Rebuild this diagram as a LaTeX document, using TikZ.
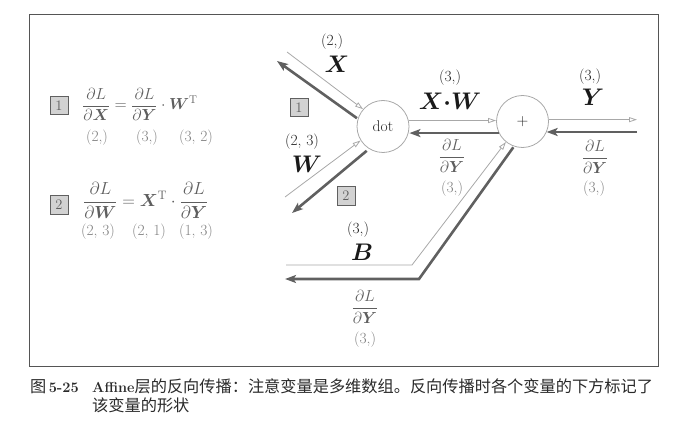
\RequirePackage{fix-cm}
\documentclass[tikz,border=0pt]{standalone}
\usepackage{amsmath,bm}
\usepackage{fontspec}
\newfontfamily\cjk{Noto Sans CJK SC}
\usetikzlibrary{arrows.meta}
\definecolor{lgray}{HTML}{A8A8A8}
\definecolor{dgray}{HTML}{606060}
\definecolor{tgray}{HTML}{5E5E5E}
\definecolor{sgray}{HTML}{828282}
\definecolor{fgray}{HTML}{555555}
\definecolor{bfill}{HTML}{D2D2D2}
\definecolor{capc}{HTML}{2A2A2A}
\tikzset{
  lightarr/.style={draw=lgray, line width=0.8pt, -{Triangle[open,length=8pt,width=5pt]}},
  darkarr/.style={draw=dgray, line width=2.6pt, -{Stealth[length=11pt,width=8pt,inset=2.5pt]}},
  opnode/.style={circle, draw=lgray, line width=0.8pt, minimum size=52pt, inner sep=0pt, text=black!85, font=\fontsize{15.5}{18}\selectfont},
  numbox/.style={draw=dgray, fill=bfill, line width=1pt, minimum size=18pt, inner sep=0pt, text=tgray, font=\fontsize{14.5}{16}\selectfont},
  shp/.style={inner sep=0pt, text=black!85, font=\fontsize{15.5}{18}\selectfont},
  shpg/.style={inner sep=0pt, text=sgray, font=\fontsize{15.5}{18}\selectfont},
  big/.style={inner sep=0pt, text=black!90, font=\fontsize{24}{28}\selectfont},
  grad/.style={inner sep=0pt, text=tgray, font=\fontsize{16}{19}\selectfont},
  capt/.style={inner sep=0pt, text=capc, font=\fontsize{14.5}{18}\selectfont},
}
\newcommand\cjkc{\fontsize{16.2}{19}\selectfont\cjk}
\begin{document}
\begin{tikzpicture}[x=1pt,y=-1pt]
\useasboundingbox (0,0) rectangle (684,438);
\draw[draw=fgray, line width=0.8pt] (29,14) rectangle (658,366);

% operator nodes
\node[opnode] (dot) at (383,126.5) {dot};
\node[opnode] (plus) at (522.5,121.5) {$+$};

% coordinates of free ends
\coordinate (xs) at (287,52);
\coordinate (xe) at (277,61);
\coordinate (ws) at (285,197);
\coordinate (we) at (292,213);
\coordinate (yr) at (637,120);
\coordinate (yd) at (637,132);
\coordinate (bl) at (286,265);
\coordinate (bc) at (412,265);
\coordinate (dc) at (419,279);
\coordinate (de) at (285,279);

% X
\draw[lightarr] (xs) -- (dot.139);
\draw[darkarr, shorten <=1pt] (dot.163) -- (xe);
% W
\draw[lightarr] (ws) -- (dot.212);
\draw[darkarr, shorten <=3pt] (dot.238) -- (we);
% X.W
\draw[lightarr] (dot.13) -- (dot.13 -| plus.west);
\draw[darkarr] (plus.206) -- (plus.206 -| dot.east);
% Y
\draw[lightarr] (plus.4) -- (plus.4 -| yr);
\draw[darkarr] (yd) -- (yd -| plus.-24);
% B
\draw[lightarr] (bl) -- (bc) -- (plus.231);
\draw[darkarr, shorten <=1pt] (plus.251) -- (dc) -- (de);

% boxes in diagram
\node[numbox] (n1) at (299,108) {1};
\node[numbox] (n2) at (346,196) {2};

% labels
\node[shp] (lx1) at (332,42) {(2,)};
\node[big] (lx2) at (337,64) {$\bm{X}$};
\node[shp] (lw1) at (302,142) {(2, 3)};
\node[big] (lw2) at (307,164) {$\bm{W}$};
\node[shp] (lm1) at (450,78) {(3,)};
\node[big] (lm2) at (450,101) {$\bm{X}{\bm{\cdot}}\bm{W}$};
\node[grad] (gm1) at (452,156) {$\displaystyle\frac{\partial L}{\partial \bm{Y}}$};
\node[shpg] (gm2) at (452,189) {(3,)};
\node[shp] (ly1) at (590,77) {(3,)};
\node[big] (ly2) at (593,97) {$\bm{Y}$};
\node[grad] (gy1) at (595,157) {$\displaystyle\frac{\partial L}{\partial \bm{Y}}$};
\node[shpg] (gy2) at (594,189) {(3,)};
\node[shp] (lb1) at (358,230) {(3,)};
\node[big] (lb2) at (362,252) {$\bm{B}$};
\node[grad] (gb1) at (365,307) {$\displaystyle\frac{\partial L}{\partial \bm{Y}}$};
\node[shpg] (gb2) at (365,340) {(3,)};

% left formulas
\node[numbox] (f1) at (59,106) {1};
\node[grad, anchor=base west] (eq1) at (82,110) {$\displaystyle\frac{\partial L}{\partial \bm{X}}=\frac{\partial L}{\partial \bm{Y}}\cdot\bm{W}^{\mathrm{T}}$};
\node[shpg] (s11) at (97,138) {(2,)};
\node[shpg] (s12) at (147,138) {(3,)};
\node[shpg] (s13) at (196,138) {(3, 2)};
\node[numbox] (f2) at (59,205) {2};
\node[grad, anchor=base west, font=\fontsize{17.5}{20}\selectfont] (eq2) at (83,206.5) {$\displaystyle\frac{\partial L}{\partial \bm{W}}=\bm{X}^{\mathrm{T}}\cdot\frac{\partial L}{\partial \bm{Y}}$};
\node[shpg] (s21) at (98,232) {(2, 3)};
\node[shpg] (s22) at (149,232) {(2, 1)};
\node[shpg] (s23) at (196,232) {(1, 3)};

% caption
\node[capt, anchor=west] (c0) at (30,386.5) {{\cjkc 图}\,\textbf{5-25}};
\node[capt, anchor=west] (c1) at (92,386.5) {\textbf{Affine}{\cjkc 层的反向传播：注意变量是多维数组。反向传播时各个变量的下方标记了}};
\node[capt, anchor=west] (c2) at (92,405.5) {{\cjkc 该变量的形状}};
\end{tikzpicture}
\end{document}
